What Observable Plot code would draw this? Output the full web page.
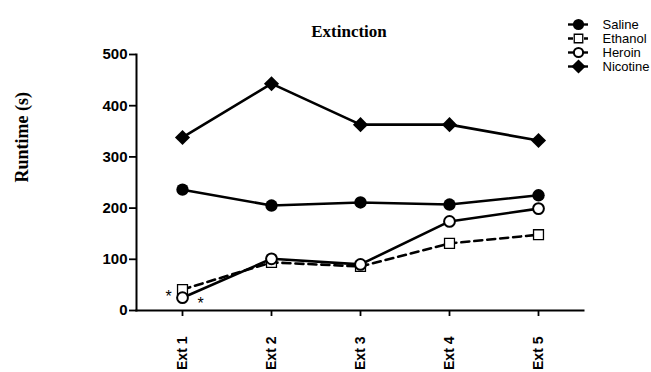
<!DOCTYPE html>
<html>
<head>
<meta charset="utf-8">
<script src="https://cdn.jsdelivr.net/npm/d3@7"></script>
<script src="https://cdn.jsdelivr.net/npm/@observablehq/plot@0.6"></script>
<style>
  html, body { margin: 0; padding: 0; background: #fff; overflow: hidden; }
  #wrap { position: relative; width: 651px; height: 372px; overflow: hidden; }
  #main { position: absolute; left: 0; top: 0; }
  #legend { position: absolute; left: 560px; top: 0; }
</style>
</head>
<body>
<div id="wrap"><div id="main"></div><div id="legend"></div></div>
<script>
const categories = ["Ext 1", "Ext 2", "Ext 3", "Ext 4", "Ext 5"];
const saline   = [236, 205, 211, 207, 225];
const ethanol  = [41, 94, 86, 131, 148];
const heroin   = [25, 101, 90, 174, 199];
const nicotine = [338, 443, 363, 363, 332];
const yTicks = [0, 100, 200, 300, 400, 500];
const seriesNames = ["Saline", "Ethanol", "Heroin", "Nicotine"];
const asteriskValues = [26, 12];
const titleText = "Extinction";
const yLabel = "Runtime (s)";

const sans = "Arial, 'Liberation Sans', Helvetica, sans-serif";
const serif = "'Times New Roman', 'Liberation Serif', 'DejaVu Serif', serif";

const seriesValues = {Saline: saline, Ethanol: ethanol, Heroin: heroin, Nicotine: nicotine};
const table = seriesNames.flatMap(s => categories.map((c, i) => ({series: s, ext: c, value: seriesValues[s][i]})));
const of = s => table.filter(d => d.series === s);

const symbolOf = {Saline: "circle", Ethanol: "square", Heroin: "circle", Nicotine: "diamond2"};
const fillOf = {Saline: "black", Ethanol: "white", Heroin: "white", Nicotine: "black"};
const rOf = {Saline: 6.2, Ethanol: 5.6, Heroin: 5.4, Nicotine: 6.8};
const swOf = {Saline: 0, Ethanol: 1.3, Heroin: 2, Nicotine: 0};
const dashOf = {Saline: null, Ethanol: "8,5", Heroin: null, Nicotine: null};

const marks = [];
for (const s of seriesNames) {
  marks.push(Plot.line(of(s), {x: "ext", y: "value", stroke: "black", strokeWidth: 2.6,
    strokeDasharray: dashOf[s]}));
}
for (const s of seriesNames) {
  marks.push(Plot.dot(of(s), {x: "ext", y: "value", symbol: () => symbolOf[s], r: rOf[s],
    fill: fillOf[s], stroke: "black", strokeWidth: swOf[s]}));
}

const main = Plot.plot({
  width: 651,
  height: 372,
  marginLeft: 136,
  marginRight: 68,
  marginTop: 54,
  marginBottom: 62,
  style: {fontFamily: sans, fontSize: "15px", fontWeight: "bold", color: "black", background: "white"},
  symbol: {type: "identity"},
  x: {type: "point", domain: categories, padding: 0.5, label: null},
  y: {domain: [0, 500], label: null},
  marks: [
    Plot.axisY({ticks: yTicks, tickSize: 7, tickPadding: 2, strokeWidth: 1.8, fontSize: 15, fontWeight: "bold", label: null}),
    Plot.axisX({tickSize: 6, tickPadding: 20, tickRotate: -90, strokeWidth: 1.8, fontSize: 14, fontWeight: "bold", label: null}),
    Plot.frame({anchor: "left", strokeWidth: 2}),
    Plot.frame({anchor: "bottom", strokeWidth: 2}),
    ...marks,
    Plot.text([asteriskValues[0]], {x: () => categories[0], y: d => d, text: () => "*", dx: -14, fontSize: 16, fontWeight: "normal"}),
    Plot.text([asteriskValues[1]], {x: () => categories[0], y: d => d, text: () => "*", dx: 18, fontSize: 16, fontWeight: "normal"}),
    Plot.text([titleText], {frameAnchor: "top", dx: -11, dy: -30, fontFamily: serif, fontSize: 17, fontWeight: "bold"}),
    Plot.text([yLabel], {frameAnchor: "left", dx: -114, rotate: -90, fontFamily: serif, fontSize: 18, fontWeight: "bold"})
  ]
});
document.getElementById("main").appendChild(main);

// Legend, drawn with Plot from the same series names
const legendRows = seriesNames.map(s => ({series: s}));
const legendR = {Saline: 5.6, Ethanol: 4.8, Heroin: 4.6, Nicotine: 6.4};
const legend = Plot.plot({
  width: 91,
  height: 84,
  margin: 0,
  style: {fontFamily: sans, fontSize: "13px", fontWeight: "normal", background: "transparent", overflow: "visible"},
  symbol: {type: "identity"},
  x: {domain: [0, 1], range: [8, 28], axis: null},
  y: {type: "point", domain: seriesNames, range: [16, 73], axis: null},
  marks: [
    ...seriesNames.map(s => Plot.ruleY(legendRows.filter(d => d.series === s), {
      y: "series", x1: () => 0, x2: () => 1, stroke: "black", strokeWidth: 2.4,
      strokeDasharray: s === "Ethanol" ? "5,3" : null})),
    ...seriesNames.map(s => Plot.dot(legendRows.filter(d => d.series === s), {
      x: () => 0.5, y: "series", symbol: () => symbolOf[s], r: legendR[s],
      fill: fillOf[s], stroke: "black", strokeWidth: swOf[s]})),
    Plot.text(legendRows, {x: () => 1, y: "series", text: "series", dx: 14, textAnchor: "start", fill: "black"})
  ]
});
document.getElementById("legend").appendChild(legend);
</script>
</body>
</html>
